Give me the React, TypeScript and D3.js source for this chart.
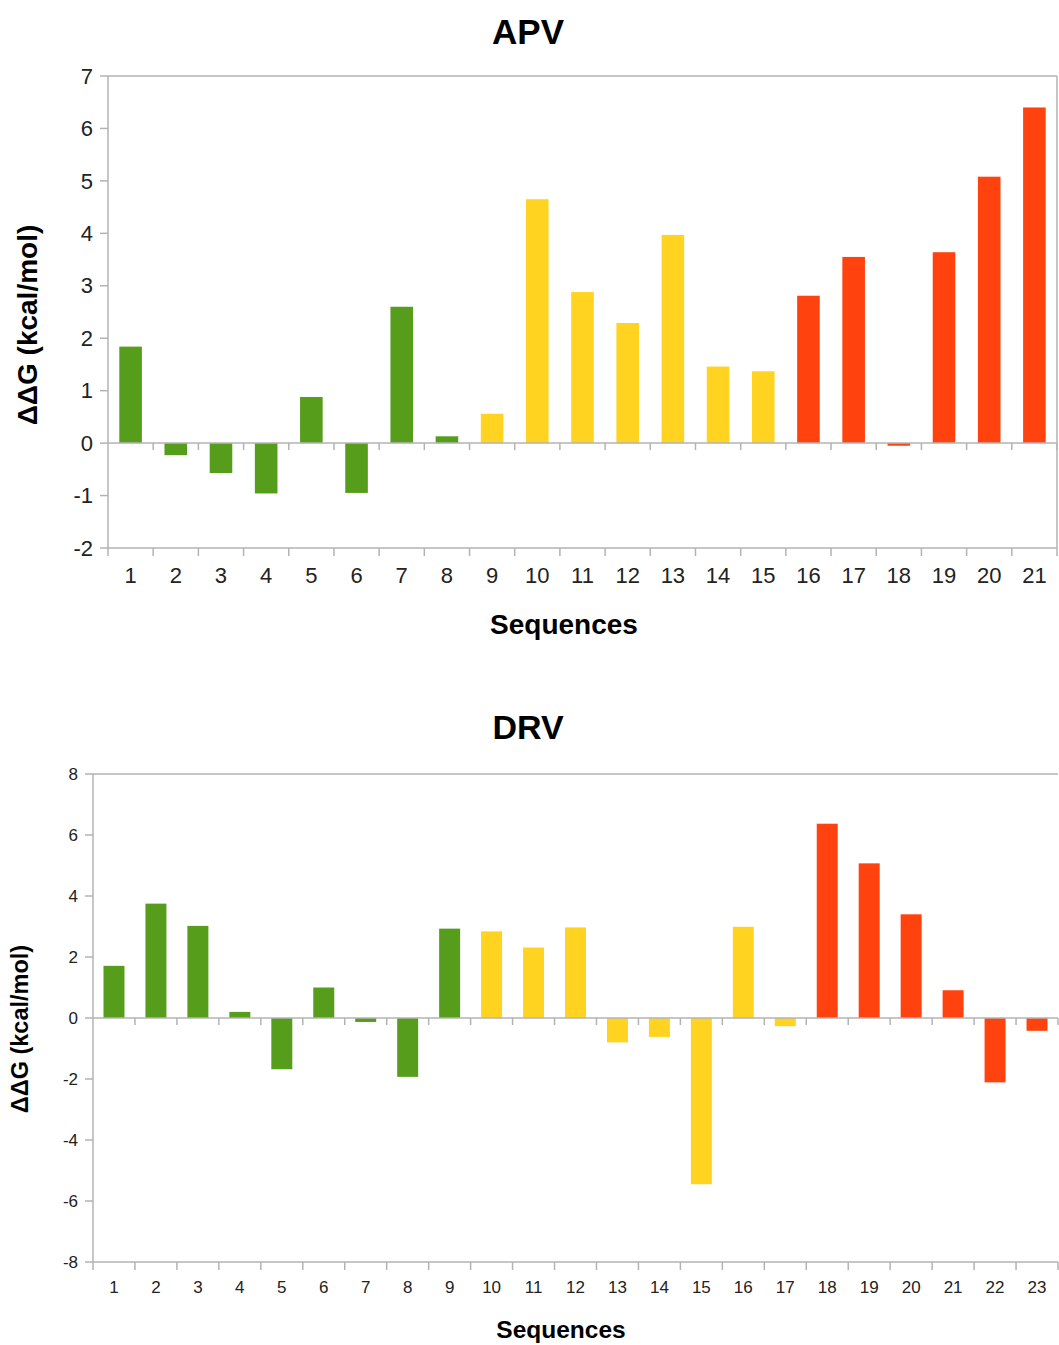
import React from "react";
import * as d3 from "d3";

// APV chart data
const apvSequences = d3.range(1, 22).map(String);
const apvValues = [
  1.84, -0.23, -0.57, -0.96, 0.88, -0.95, 2.6, 0.13, 0.56, 4.65, 2.88,
  2.29, 3.97, 1.46, 1.37, 2.81, 3.55, -0.05, 3.64, 5.08, 6.4,
];
const apvGroups = [
  "g", "g", "g", "g", "g", "g", "g", "g",
  "y", "y", "y", "y", "y", "y", "y",
  "r", "r", "r", "r", "r", "r",
];
const apvTicks = [-2, -1, 0, 1, 2, 3, 4, 5, 6, 7];

// DRV chart data
const drvSequences = d3.range(1, 24).map(String);
const drvValues = [
  1.71, 3.75, 3.02, 0.2, -1.68, 1.0, -0.13, -1.93, 2.93, 2.84, 2.31,
  2.97, -0.8, -0.62, -5.45, 2.99, -0.27, 6.37, 5.07, 3.4, 0.91, -2.11, -0.42,
];
const drvGroups = [
  "g", "g", "g", "g", "g", "g", "g", "g", "g",
  "y", "y", "y", "y", "y", "y", "y", "y",
  "r", "r", "r", "r", "r", "r",
];
const drvTicks = [-8, -6, -4, -2, 0, 2, 4, 6, 8];

const groupColor: Record<string, string> = {
  g: "#579d1c",
  y: "#ffd320",
  r: "#ff420e",
};

const FONT = "'Liberation Sans', Arial, sans-serif";
const AXIS = "#b3b3b3";

type ChartProps = {
  title: string;
  cats: string[];
  values: number[];
  groups: string[];
  ticks: number[];
  left: number;
  right: number;
  top: number;
  bottom: number;
  rightBorder: boolean;
  titleY: number;
  titleSize: number;
  tickSize: number;
  xLabelY: number;
  yLabelGap: number;
  xTitleSize: number;
  yTitleSize: number;
  xTitleX: number;
  xTitleY: number;
  yTitleX: number;
  yTitleY: number;
};

const BarChart = (p: ChartProps) => {
  const x = d3
    .scaleBand<string>()
    .domain(p.cats)
    .range([p.left, p.right])
    .paddingInner(0.5)
    .paddingOuter(0.25);
  const step = x.step();
  const y = d3
    .scaleLinear()
    .domain([p.ticks[0], p.ticks[p.ticks.length - 1]])
    .range([p.bottom, p.top]);
  const y0 = y(0);
  const bounds = d3.range(p.cats.length + 1).map((i) => p.left + i * step);

  return (
    <g fontFamily={FONT}>
      <text
        x={528}
        y={p.titleY}
        textAnchor="middle"
        fontSize={p.titleSize}
        fontWeight="bold"
      >
        {p.title}
      </text>

      {/* frame */}
      <line x1={p.left} x2={p.right} y1={p.top} y2={p.top} stroke={AXIS} strokeWidth={1.5} />
      <line x1={p.left} x2={p.right} y1={p.bottom} y2={p.bottom} stroke={AXIS} strokeWidth={1.5} />
      <line x1={p.left} x2={p.left} y1={p.top} y2={p.bottom} stroke={AXIS} strokeWidth={1.5} />
      {p.rightBorder && (
        <line x1={p.right} x2={p.right} y1={p.top} y2={p.bottom} stroke={AXIS} strokeWidth={1.5} />
      )}

      {/* bars */}
      {p.values.map((v, i) => (
        <rect
          key={i}
          x={x(p.cats[i])}
          width={x.bandwidth()}
          y={Math.min(y(v), y0)}
          height={Math.abs(y(v) - y0)}
          fill={groupColor[p.groups[i]]}
        />
      ))}

      {/* zero line and ticks */}
      <line x1={p.left} x2={p.right} y1={y0} y2={y0} stroke={AXIS} strokeWidth={1.5} />
      {bounds.slice(1).map((b, i) => (
        <line key={"z" + i} x1={b} x2={b} y1={y0} y2={y0 + 7} stroke={AXIS} strokeWidth={1.5} />
      ))}
      {bounds.map((b, i) => (
        <line key={"b" + i} x1={b} x2={b} y1={p.bottom} y2={p.bottom + 8} stroke={AXIS} strokeWidth={1.5} />
      ))}

      {/* y ticks */}
      {p.ticks.map((t) => (
        <g key={t}>
          <line x1={p.left - 8} x2={p.left} y1={y(t)} y2={y(t)} stroke={AXIS} strokeWidth={1.5} />
          <text
            x={p.left - p.yLabelGap}
            y={y(t)}
            dy="0.35em"
            textAnchor="end"
            fontSize={p.tickSize}
            fill="#222"
          >
            {t}
          </text>
        </g>
      ))}

      {/* x labels */}
      {p.cats.map((c) => (
        <text
          key={c}
          x={(x(c) as number) + x.bandwidth() / 2}
          y={p.xLabelY}
          textAnchor="middle"
          fontSize={p.tickSize}
          fill="#222"
        >
          {c}
        </text>
      ))}

      <text
        x={p.xTitleX}
        y={p.xTitleY}
        textAnchor="middle"
        fontSize={p.xTitleSize}
        fontWeight="bold"
      >
        Sequences
      </text>
      <text
        transform={`translate(${p.yTitleX},${p.yTitleY}) rotate(-90)`}
        textAnchor="middle"
        dy="0.35em"
        fontSize={p.yTitleSize}
        fontWeight="bold"
      >
        ΔΔG (kcal/mol)
      </text>
    </g>
  );
};

export default function App() {
  return (
    <svg
      width={1059}
      height={1345}
      style={{ position: "absolute", left: 0, top: 0, background: "#fff" }}
    >
      <rect width={1059} height={1345} fill="#fff" />
      <BarChart
        title="APV"
        cats={apvSequences}
        values={apvValues}
        groups={apvGroups}
        ticks={apvTicks}
        left={108}
        right={1057}
        top={76}
        bottom={548}
        rightBorder={true}
        titleY={44}
        titleSize={35}
        tickSize={22}
        xLabelY={583}
        yLabelGap={15}
        xTitleSize={28}
        yTitleSize={28}
        xTitleX={564}
        xTitleY={634}
        yTitleX={27}
        yTitleY={325}
      />
      <BarChart
        title="DRV"
        cats={drvSequences}
        values={drvValues}
        groups={drvGroups}
        ticks={drvTicks}
        left={93}
        right={1058}
        top={774}
        bottom={1262}
        rightBorder={false}
        titleY={739}
        titleSize={34}
        tickSize={17}
        xLabelY={1293}
        yLabelGap={15}
        xTitleSize={24.5}
        yTitleSize={23.5}
        xTitleX={561}
        xTitleY={1338}
        yTitleX={20}
        yTitleY={1029}
      />
    </svg>
  );
}
